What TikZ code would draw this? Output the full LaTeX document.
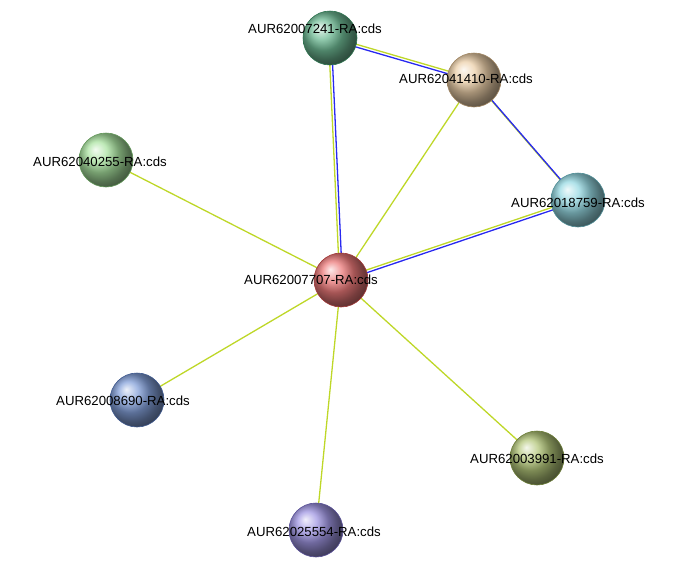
\documentclass[tikz,border=0pt]{standalone}
\usepackage{fontspec}
\setmainfont{Liberation Sans}
\usetikzlibrary{backgrounds}
\begin{document}
\begin{tikzpicture}[x=1pt,y=-1pt,
  prot/.style={circle,minimum size=54pt,inner sep=0pt,shading=ball,ball color=#1!75!white,draw=#1!70!black,line width=0.6pt},
  lab/.style={font=\fontsize{13.2}{15}\selectfont,inner sep=1pt},
  ye/.style={draw={rgb,255:red,190;green,215;blue,40},line width=1.3pt},
  bl/.style={draw={rgb,255:red,40;green,40;blue,240},line width=1.3pt}]
\useasboundingbox (0,0) rectangle (685,574);
\definecolor{cred}{rgb}{0.9,0.3,0.3}
\definecolor{cgreen}{rgb}{0.25,0.65,0.45}
\definecolor{clgreen}{rgb}{0.55,0.85,0.5}
\definecolor{cbeige}{rgb}{0.9,0.75,0.55}
\definecolor{ccyan}{rgb}{0.45,0.8,0.85}
\definecolor{cblue}{rgb}{0.35,0.5,0.8}
\definecolor{colive}{rgb}{0.6,0.7,0.3}
\definecolor{cpurple}{rgb}{0.5,0.45,0.85}
\node[prot=cgreen] (a) at (330,38) {};
\node[prot=cbeige] (b) at (474,80) {};
\node[prot=clgreen] (c) at (106,160) {};
\node[prot=ccyan] (d) at (578,200) {};
\node[prot=cred] (e) at (341,280) {};
\node[prot=cblue] (f) at (137,400) {};
\node[prot=colive] (g) at (537,458) {};
\node[prot=cpurple] (h) at (316,530) {};
\begin{scope}[on background layer]
\draw[ye] (e.center) -- (c.center);
\draw[ye] (e.center) -- (b.center);
\draw[ye] (e.center) -- (f.center);
\draw[ye] (e.center) -- (g.center);
\draw[ye] (e.center) -- (h.center);
\draw[ye,transform canvas={xshift=-1.4pt}] (e.center) -- (a.center);
\draw[bl,transform canvas={xshift=1.4pt}] (e.center) -- (a.center);
\draw[ye,transform canvas={yshift=1.4pt}] (e.center) -- (d.center);
\draw[bl,transform canvas={yshift=-1.4pt}] (e.center) -- (d.center);
\draw[ye,transform canvas={yshift=1.4pt}] (a.center) -- (b.center);
\draw[bl,transform canvas={yshift=-1.4pt}] (a.center) -- (b.center);
\draw[ye,transform canvas={xshift=-1.2pt,yshift=1pt}] (b.center) -- (d.center);
\draw[bl,transform canvas={xshift=1.2pt,yshift=-1pt}] (b.center) -- (d.center);
\end{scope}
\node[lab] (la) at (315,29) {AUR62007241-RA:cds};
\node[lab] (lb) at (466,79) {AUR62041410-RA:cds};
\node[lab] (lc) at (100,162) {AUR62040255-RA:cds};
\node[lab] (ld) at (578,203) {AUR62018759-RA:cds};
\node[lab] (le) at (311,280) {AUR62007707-RA:cds};
\node[lab] (lf) at (123,401) {AUR62008690-RA:cds};
\node[lab] (lg) at (537,459) {AUR62003991-RA:cds};
\node[lab] (lh) at (314,532) {AUR62025554-RA:cds};
\end{tikzpicture}
\end{document}
